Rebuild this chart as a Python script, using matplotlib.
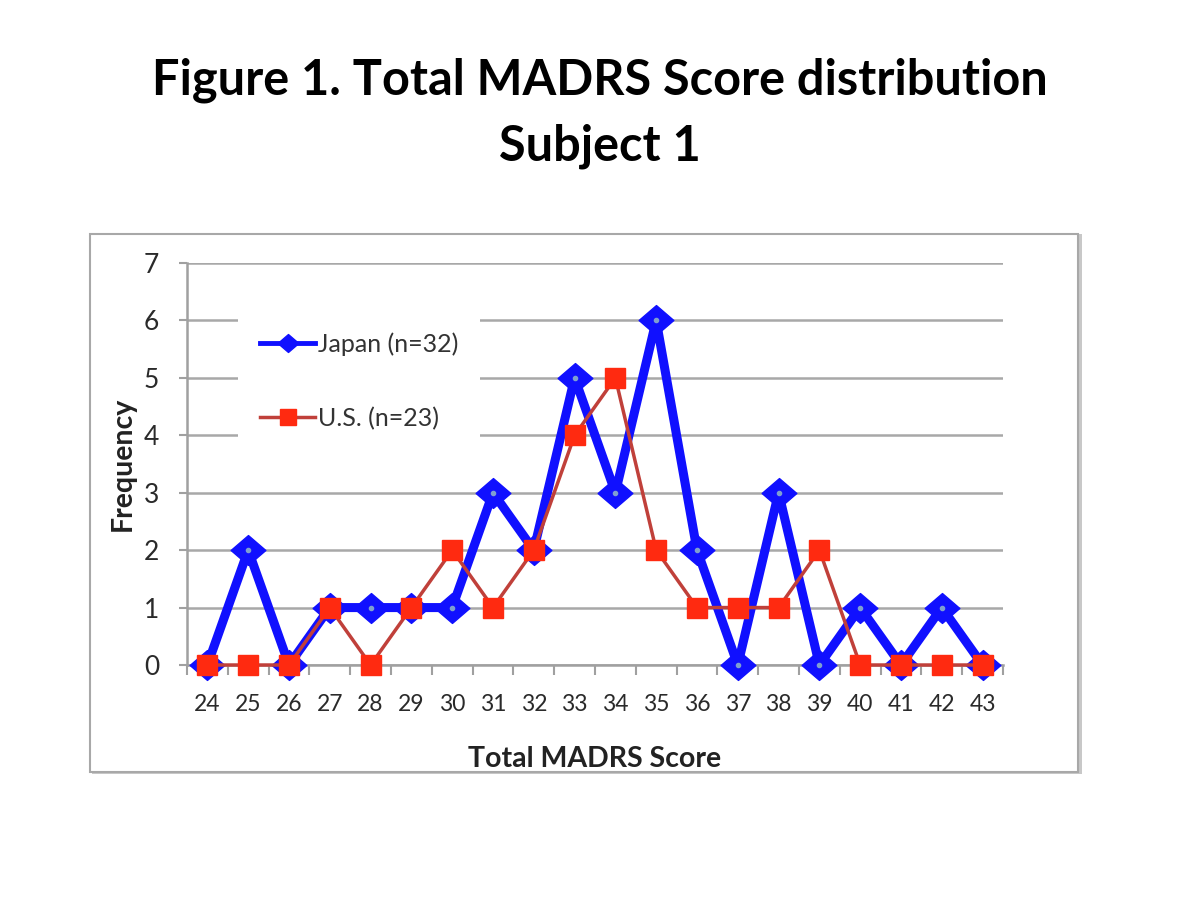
import matplotlib
matplotlib.use("Agg")
import matplotlib.pyplot as plt
from matplotlib.patches import Rectangle
from matplotlib.path import Path
from matplotlib.ticker import FixedLocator
import numpy as np

scores = [24, 25, 26, 27, 28, 29, 30, 31, 32, 33, 34, 35, 36, 37, 38, 39, 40, 41, 42, 43]
japan = [0, 2, 0, 1, 1, 1, 1, 3, 2, 5, 3, 6, 2, 0, 3, 0, 1, 0, 1, 0]
us = [0, 0, 0, 1, 0, 1, 2, 1, 2, 4, 5, 2, 1, 1, 1, 2, 0, 0, 0, 0]
y_ticks = [0, 1, 2, 3, 4, 5, 6, 7]

plt.rcParams['font.family'] = ['Lato', 'DejaVu Sans']

fig = plt.figure(figsize=(12, 9), dpi=100)
fig.patch.set_facecolor('white')

# outer chart box
fig.patches.append(Rectangle((92/1200, 1-774/900), 990/1200, 540/900, transform=fig.transFigure,
                             facecolor='#c8c8c8', edgecolor='none', zorder=-3))
fig.patches.append(Rectangle((90/1200, 1-772/900), 988/1200, 538/900, transform=fig.transFigure,
                             facecolor='white', edgecolor='#a8a8a8', linewidth=1.5, zorder=-2))

fig.text(0.5, 1-80/900, "Figure 1. Total MADRS Score distribution", ha='center', va='center',
         fontsize=35, fontweight='bold', color='black')
fig.text(0.5, 1-146/900, "Subject 1", ha='center', va='center',
         fontsize=35, fontweight='bold', color='black')

ax = fig.add_axes([187/1200, 1-665/900, 816/1200, 402/900])
ax.set_facecolor('none')
x = np.arange(len(scores))

diamond = Path([(-1, 0), (0, 0.86), (1, 0), (0, -0.86), (-1, 0)],
               [Path.MOVETO, Path.LINETO, Path.LINETO, Path.LINETO, Path.CLOSEPOLY])

ax.plot(x, japan, color='#1010ff', linewidth=6.5, marker=diamond, markersize=25,
        markerfacecolor='#1010ff', markeredgecolor='#1010ff', label='Japan (n=32)', zorder=3,
        solid_joinstyle='round', clip_on=False)
ax.plot(x, japan, linestyle='none', marker='o', markersize=3, color='#7f9fd0', zorder=3.5,
        clip_on=False)
ax.plot(x, us, color='#c0403a', linewidth=2.5, marker='s', markersize=14.5,
        markerfacecolor='#ff2a10', markeredgecolor='#ff2a10', label='U.S. (n=23)', zorder=4,
        clip_on=False)

ax.set_xlim(-0.5, len(scores) - 0.5)
ax.set_ylim(0, 7)
ax.set_yticks(y_ticks)
ax.set_yticklabels([str(v) for v in y_ticks], fontsize=19, color='#2a2a2a')
ax.set_xticks(x)
ax.set_xticklabels([str(s) for s in scores], fontsize=16.5, color='#2a2a2a')
ax.xaxis.set_minor_locator(FixedLocator(np.arange(-0.5, len(scores), 1.0)))
ax.tick_params(axis='x', which='major', length=0, pad=21)
ax.tick_params(axis='x', which='minor', length=7, width=1.5, color='#a0a0a0', direction='out')
ax.tick_params(axis='y', which='major', length=6, width=1.5, color='#a0a0a0', pad=14)

ax.grid(axis='y', color='#a8a8a8', linewidth=1.8, zorder=0)
ax.set_axisbelow(True)
for side in ['top', 'right']:
    ax.spines[side].set_visible(False)
for side in ['left', 'bottom']:
    ax.spines[side].set_color('#a0a0a0')
    ax.spines[side].set_linewidth(1.8)

ax.set_xlabel("Total MADRS Score", fontsize=20.5, fontweight='bold', color='#222222', labelpad=22)
ax.set_ylabel("Frequency", fontsize=20.5, fontweight='bold', color='#222222', labelpad=6)

leg = ax.legend(loc='upper left', bbox_to_anchor=(38/816, (665-297)/402), fontsize=18,
                frameon=True, fancybox=False, edgecolor='none', facecolor='white', framealpha=1,
                handlelength=2.2, handletextpad=0.1, labelspacing=2.05, borderpad=0.9,
                markerscale=0.6)
leg.set_zorder(2)
leg.legend_handles[0].set_linewidth(3.5)
leg.legend_handles[1].set_markersize(11)
for t in leg.get_texts():
    t.set_color('#333333')

fig.savefig('out.png', dpi=100, facecolor='white')
